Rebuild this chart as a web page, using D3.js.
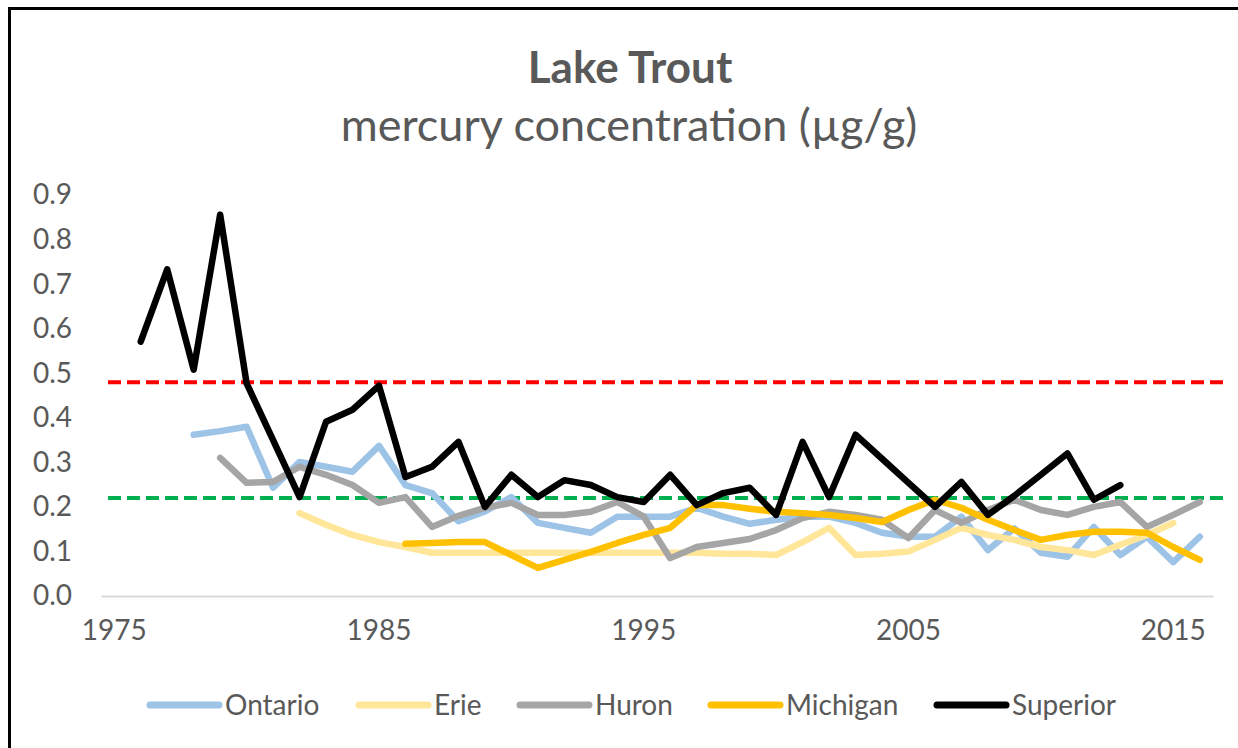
<!DOCTYPE html>
<html>
<head>
<meta charset="utf-8">
<script src="https://cdn.jsdelivr.net/npm/d3@7"></script>
<style>
    body { margin: 0; background: #fff; }
    text { font-family: Lato, "Open Sans", sans-serif; fill: #595959; }
</style>
</head>
<body>
<svg id="chart"></svg>
<script>
// Years on the category axis (1975 .. 2016)
let years = d3.range(1975, 2017);
let tickYears = [1975, 1985, 1995, 2005, 2015];
let yTicks = [0, 0.1, 0.2, 0.3, 0.4, 0.5, 0.6, 0.7, 0.8, 0.9];

// Mercury values per lake, each list starting at its own first year
let ontarioStart = 1978;
let ontario = [0.362, 0.37, 0.38, 0.243, 0.301, 0.29, 0.279, 0.337, 0.249, 0.231,
    0.168, 0.19, 0.222, 0.164, 0.153, 0.142, 0.178, 0.178, 0.178, 0.198,
    0.178, 0.162, 0.171, 0.178, 0.178, 0.164, 0.142, 0.133, 0.133, 0.178,
    0.103, 0.152, 0.097, 0.088, 0.155, 0.092, 0.133, 0.076, 0.133];

let erieStart = 1982;
let erie = [0.186, 0.16, 0.137, 0.121, 0.11, 0.097, 0.097, 0.097, 0.097, 0.097,
    0.097, 0.097, 0.097, 0.097, 0.097, 0.097, 0.095, 0.095, 0.092, 0.121,
    0.153, 0.092, 0.095, 0.1, 0.126, 0.153, 0.137, 0.126, 0.11, 0.103,
    0.092, 0.115, 0.137, 0.164];

let huronStart = 1979;
let huron = [0.31, 0.254, 0.256, 0.29, 0.272, 0.249, 0.209, 0.222, 0.155, 0.18,
    0.198, 0.209, 0.182, 0.182, 0.189, 0.211, 0.178, 0.085, 0.11, 0.119,
    0.128, 0.148, 0.175, 0.189, 0.182, 0.171, 0.13, 0.193, 0.164, 0.193,
    0.216, 0.193, 0.182, 0.2, 0.211, 0.155, 0.182, 0.211];

let michiganStart = 1986;
let michigan = [0.117, 0.119, 0.121, 0.121, 0.092, 0.063, 0.081, 0.099, 0.119, 0.137,
    0.153, 0.204, 0.204, 0.196, 0.189, 0.186, 0.182, 0.175, 0.166, 0.193,
    0.216, 0.198, 0.171, 0.148, 0.126, 0.137, 0.144, 0.144, 0.142, 0.11,
    0.081];

let superiorStart = 1976;
let superior = [0.571, 0.733, 0.508, 0.856, 0.477, 0.35, 0.222, 0.391, 0.418, 0.472,
    0.267, 0.29, 0.346, 0.2, 0.272, 0.222, 0.26, 0.249, 0.222, 0.211,
    0.272, 0.204, 0.231, 0.243, 0.182, 0.346, 0.222, 0.362, 0.308, 0.254,
    0.2, 0.256, 0.182, 0.225, 0.272, 0.32, 0.216, 0.249];

// Reference levels (dashed lines)
let redLevel = 0.48;
let greenLevel = 0.22;

let lakeNames = ['Ontario', 'Erie', 'Huron', 'Michigan', 'Superior'];
let lakeColors = ['#9DC3E6', '#FFE699', '#A5A5A5', '#FFC000', '#000000'];

let config = {
    svg: { width: 1238, height: 748 },
    plot: { left: 101, right: 1213, top: 195, bottom: 596 }
};

let series = [
    { name: 'Ontario', start: ontarioStart, values: ontario },
    { name: 'Erie', start: erieStart, values: erie },
    { name: 'Huron', start: huronStart, values: huron },
    { name: 'Michigan', start: michiganStart, values: michigan },
    { name: 'Superior', start: superiorStart, values: superior }
];

function translate(x, y) {
    return 'translate(' + x + ',' + y + ')';
}

let svg = d3.select('#chart')
    .attr('width', config.svg.width)
    .attr('height', config.svg.height);

// Frame round the chart (right and bottom edges are off the picture)
svg.append('rect')
    .attr('x', 9.5).attr('y', 8.5)
    .attr('width', 1300).attr('height', 800)
    .attr('fill', 'none')
    .attr('stroke', '#000')
    .attr('stroke-width', 3);

// Scales
let scales = {};
scales.x = d3.scaleBand()
    .domain(years)
    .range([config.plot.left, config.plot.right]);
scales.y = d3.scaleLinear()
    .domain([0, 0.9])
    .range([config.plot.bottom, config.plot.top]);
scales.color = d3.scaleOrdinal().domain(lakeNames).range(lakeColors);

let xc = year => scales.x(year) + scales.x.bandwidth() / 2;

// Titles
svg.append('text')
    .attr('x', 630).attr('y', 83)
    .attr('text-anchor', 'middle')
    .style('font-size', '44px')
    .style('font-weight', 'bold')
    .text('Lake Trout');
svg.append('text')
    .attr('x', 629).attr('y', 141)
    .attr('text-anchor', 'middle')
    .style('font-size', '45px')
    .text('mercury concentration (µg/g)');

// Y axis, labels only
let yAxis = d3.axisLeft(scales.y)
    .tickValues(yTicks)
    .tickFormat(d3.format('.1f'))
    .tickSize(0)
    .tickPadding(0);
let yAxisGroup = svg.append('g')
    .attr('transform', translate(72, 0))
    .call(yAxis);
yAxisGroup.select('.domain').remove();
yAxisGroup.selectAll('text')
    .style('font-size', '28px')
    .style('font-family', 'Lato, sans-serif')
    .attr('fill', '#595959');

// X axis
let xAxis = d3.axisBottom(scales.x)
    .tickValues(tickYears)
    .tickSize(0)
    .tickPadding(24)
    .tickSizeOuter(0);
let xAxisGroup = svg.append('g')
    .attr('transform', translate(0, config.plot.bottom))
    .call(xAxis);
xAxisGroup.select('.domain')
    .attr('stroke', '#D9D9D9')
    .attr('stroke-width', 2);
xAxisGroup.selectAll('text')
    .style('font-size', '28px')
    .style('font-family', 'Lato, sans-serif')
    .attr('fill', '#595959');

// Dashed reference lines
let refs = [
    { value: redLevel, color: '#FF0000' },
    { value: greenLevel, color: '#00B050' }
];
svg.append('g').selectAll('line')
    .data(refs)
    .enter()
    .append('line')
    .attr('x1', config.plot.left + 7)
    .attr('x2', config.plot.right + 10)
    .attr('y1', d => scales.y(d.value))
    .attr('y2', d => scales.y(d.value))
    .attr('stroke', d => d.color)
    .attr('stroke-width', 4)
    .attr('stroke-dasharray', '13,6');

// Lake lines
let line = d3.line()
    .x(d => xc(d.year))
    .y(d => scales.y(d.value));

svg.append('g').selectAll('path')
    .data(series)
    .enter()
    .append('path')
    .attr('d', s => line(s.values.map((v, i) => ({ year: s.start + i, value: v }))))
    .attr('fill', 'none')
    .attr('stroke', s => scales.color(s.name))
    .attr('stroke-width', 6.5)
    .attr('stroke-linejoin', 'round')
    .attr('stroke-linecap', 'round');

// Legend
let legendX = [150, 359, 520, 711, 937];
let legend = svg.append('g').attr('class', 'legend');
let items = legend.selectAll('g')
    .data(lakeNames)
    .enter()
    .append('g')
    .attr('transform', (d, i) => translate(legendX[i], 705));
items.append('line')
    .attr('x1', 0).attr('x2', 69)
    .attr('y1', 0).attr('y2', 0)
    .attr('stroke', d => scales.color(d))
    .attr('stroke-width', 7)
    .attr('stroke-linecap', 'round');
items.append('text')
    .attr('x', 75).attr('y', 10)
    .style('font-size', '28px')
    .text(d => d);
</script>
</body>
</html>
